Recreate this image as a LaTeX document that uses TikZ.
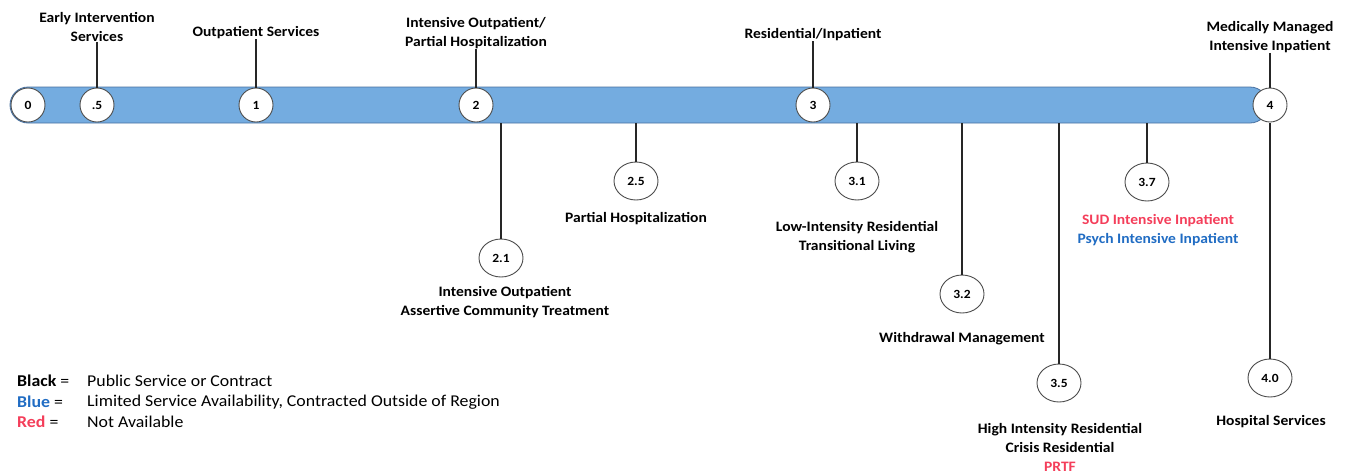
\documentclass[tikz,border=0pt]{standalone}
\usepackage{fontspec}
\setmainfont{Carlito}[FakeStretch=1.08]
\usetikzlibrary{positioning,shapes.geometric}
\definecolor{barblue}{RGB}{116,172,224}
\definecolor{baredge}{RGB}{72,112,160}
\definecolor{txtred}{RGB}{244,62,90}
\definecolor{txtblue}{RGB}{32,108,195}

\begin{document}
\begin{tikzpicture}[x=1pt,y=-1pt,
  level/.style={circle,draw=black!70,fill=white,line width=0.9pt,minimum size=34pt,inner sep=0pt,font=\fontsize{12.5}{14}\selectfont\bfseries},
  sublevel/.style={ellipse,draw=black!70,fill=white,line width=0.9pt,minimum width=44pt,minimum height=38pt,inner sep=0pt,font=\fontsize{12.5}{14}\selectfont\bfseries},
  lbl/.style={align=center,inner sep=0pt,font=\fontsize{14.4}{19}\selectfont\bfseries},
  key/.style={anchor=west,inner sep=0pt,font=\fontsize{16.5}{20}\selectfont},
  tick/.style={line width=1.3pt,black!85}]

\useasboundingbox (0,0) rectangle (1346,472);

% Continuum bar
\node[draw=baredge,fill=barblue,line width=0.8pt,rounded corners=18pt,minimum width=1258pt,minimum height=36pt,inner sep=0pt] (bar) at (639,105) {};

% Levels on the bar
\foreach \x/\n/\t in {28/0/0, 97/05/.5, 256/1/1, 476/2/2, 813/3/3, 1270/4/4}
  \node[level] (l\n) at (\x,105) {\t};

% Labels above the bar
\node[lbl] (a05) at (97,27) {Early Intervention\\Services};
\node[lbl] (a1) at (256,33) {Outpatient Services};
\node[lbl] (a2) at (476,33) {Intensive Outpatient/\\Partial Hospitalization};
\node[lbl] (a3) at (813,35) {Residential/Inpatient};
\node[lbl] (a4) at (1270,37) {Medically Managed\\Intensive Inpatient};

\foreach \n in {05,1,2,3,4}
  \draw[tick] (a\n) -- (l\n);

% Sub-levels below the bar
\foreach \x/\y/\n/\t in {501/258/21/2.1, 636/181/25/2.5, 857/181/31/3.1, 962/294/32/3.2, 1059/383/35/3.5, 1147/182/37/3.7, 1270/378/40/4.0}
  \node[sublevel] (s\n) at (\x,\y) {\t};

\foreach \n in {21,25,31,32,35,37,40}
  \draw[tick] (bar.south -| s\n) -- (s\n);

% Labels below
\node[lbl] (d21) at (505,302) {Intensive Outpatient\\Assertive Community Treatment};
\node[lbl] (d25) at (636,219) {Partial Hospitalization};
\node[lbl] (d31) at (857,237) {Low-Intensity Residential\\Transitional Living};
\node[lbl] (d32) at (962,339) {Withdrawal Management};
\node[lbl] (d35) at (1060,447) {High Intensity Residential\\Crisis Residential\\\textcolor{txtred}{PRTF}};
\node[lbl] (d37) at (1158,230) {\textcolor{txtred}{SUD Intensive Inpatient}\\\textcolor{txtblue}{Psych Intensive Inpatient}};
\node[lbl] (d40) at (1271,422) {Hospital Services};

% Colour key
\node[key] (kblack) at (17,381) {\textbf{Black} =};
\node[key] (kblue) at (17,402) {\textcolor{txtblue}{\textbf{Blue}} =};
\node[key] (kred) at (17,422) {\textcolor{txtred}{\textbf{Red}} =};
\node[key] (tblack) at (87,381) {Public Service or Contract};
\node[key] (tblue) at (87,402) {Limited Service Availability, Contracted Outside of Region};
\node[key] (tred) at (87,422) {Not Available};
\end{tikzpicture}
\end{document}
